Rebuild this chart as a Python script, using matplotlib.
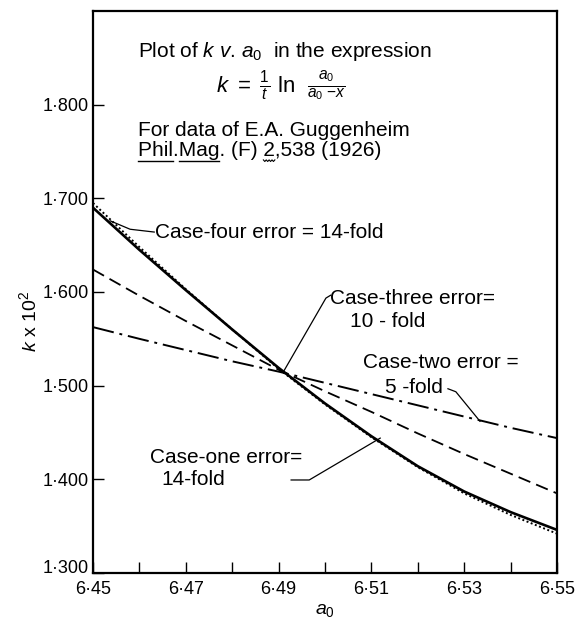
import numpy as np
import matplotlib
matplotlib.use("Agg")
import matplotlib.pyplot as plt
import matplotlib.transforms as mtransforms

plt.rcParams["font.family"] = ["Liberation Sans", "DejaVu Sans"]
plt.rcParams["mathtext.fontset"] = "custom"
plt.rcParams["mathtext.rm"] = "Liberation Sans"
plt.rcParams["mathtext.it"] = "Liberation Sans:italic"

# a0 values (x axis)
a0 = [6.45, 6.46, 6.47, 6.48, 6.49, 6.50, 6.51, 6.52, 6.53, 6.54, 6.55]

# k x 10^2 for the four cases
case_one = [1.690, 1.645, 1.602, 1.560, 1.519, 1.481, 1.446, 1.414, 1.387, 1.365, 1.346]
case_four = [1.695, 1.648, 1.603, 1.560, 1.518, 1.480, 1.445, 1.413, 1.385, 1.362, 1.342]
case_three = [1.624, 1.596, 1.569, 1.543, 1.517, 1.494, 1.472, 1.449, 1.427, 1.406, 1.385]
case_two = [1.5625, 1.550, 1.538, 1.526, 1.515, 1.503, 1.491, 1.479, 1.467, 1.455, 1.444]

xticks = [6.45, 6.47, 6.49, 6.51, 6.53, 6.55]
xticklabels = ["6·45", "6·47", "6·49", "6·51", "6·53", "6·55"]
yticks = [1.3, 1.4, 1.5, 1.6, 1.7, 1.8]
yticklabels = ["1·300", "1·400", "1·500", "1·600", "1·700", "1·800"]

fig = plt.figure(figsize=(5.79, 6.22), dpi=100)
ax = fig.add_axes([0.1606, 0.0788, 0.8014, 0.9035])

ax.plot(a0, case_one, color="black", lw=1.9, solid_capstyle="butt")
ax.plot(a0, case_four, color="black", lw=1.4, linestyle=(0, (1, 1.3)))
ax.plot(a0, case_three, color="black", lw=1.3, linestyle=(0, (7, 3.5)))
ax.plot(a0, case_two, color="black", lw=1.4, linestyle=(0, (11, 3, 1.5, 3)))

ax.set_xlim(6.45, 6.55)
ax.set_ylim(1.3, 1.9)
ax.set_xticks(np.arange(6.45, 6.555, 0.01), minor=True)
ax.set_xticks(xticks)
ax.set_xticklabels(xticklabels, fontsize=13)
ax.set_yticks(yticks)
ax.set_yticklabels(yticklabels, fontsize=13)
ax.tick_params(which="both", direction="in", length=8, width=1.0, pad=3)
ax.tick_params(axis="x", which="major", pad=6)
for s in ax.spines.values():
    s.set_linewidth(1.6)

# lift the lowest y label a little, as in the original, so it clears 6·45
lbl = ax.get_yticklabels()[0]
lbl.set_transform(lbl.get_transform() + mtransforms.ScaledTranslation(0, 5 / 72, fig.dpi_scale_trans))

ax.set_ylabel(r"$k$ x 10$^2$", fontsize=14)
ax.yaxis.set_label_coords(-0.115, 0.447)
ax.set_xlabel(r"$a_0$", fontsize=14, labelpad=3)

fs = 15
ax.text(6.4597, 1.857, r"Plot of $k$ $v$. $a_0$  in the expression", fontsize=fs, va="center")
ax.text(6.4905, 1.820, r"$k\ =\ \frac{1}{t}\ \mathrm{ln}\ \ \frac{a_0}{a_0\ \mathrm{-} x}$",
        fontsize=fs + 1, va="center", ha="center")
ax.text(6.4597, 1.7728, "For data of E.A. Guggenheim", fontsize=fs, va="center")
ref = ax.text(6.4597, 1.7514, "Phil.Mag. (F) 2,538 (1926)", fontsize=fs, va="center")

# underlines under Phil. and Mag., wavy under 2
fig.canvas.draw()
r = fig.canvas.get_renderer()
bb = ref.get_window_extent(r)
prop = ref.get_fontproperties()
def w(s):
    return r.get_text_width_height_descent(s, prop, ismath=False)[0]
inv = fig.transFigure.inverted()
y_ul = bb.y0 - 1
for a, b in [("", "Phil"), ("Phil.", "Mag")]:
    x0 = bb.x0 + w(a) if a else bb.x0
    x1 = bb.x0 + w(a + b)
    p0 = inv.transform((x0, y_ul)); p1 = inv.transform((x1, y_ul))
    fig.add_artist(plt.Line2D([p0[0], p1[0]], [p0[1], p1[1]], color="black", lw=1.0))
x0 = bb.x0 + w("Phil.Mag. (F) ")
x1 = bb.x0 + w("Phil.Mag. (F) 2")
xs = np.linspace(x0, x1, 9)
ys = y_ul + np.where(np.arange(9) % 2 == 0, 0.8, -0.8)
pts = inv.transform(np.column_stack([xs, ys]))
fig.add_artist(plt.Line2D(pts[:, 0], pts[:, 1], color="black", lw=0.8))

# case labels with leader lines
lw_l = 0.9
ax.text(6.4634, 1.664, "Case-four error = 14-fold", fontsize=fs, va="center")
ax.plot([6.4632, 6.4580, 6.4537], [1.664, 1.667, 1.676], color="black", lw=lw_l)

ax.text(6.5011, 1.5935, "Case-three error=", fontsize=fs, va="center")
ax.text(6.5054, 1.568, "10 - fold", fontsize=fs, va="center")
ax.plot([6.5012, 6.5002, 6.4910], [1.5965, 1.5935, 1.5145], color="black", lw=lw_l)

ax.text(6.5082, 1.5245, "Case-two error =", fontsize=fs, va="center")
ax.text(6.5130, 1.4978, "5 -fold", fontsize=fs, va="center")
ax.plot([6.5265, 6.5282, 6.5334], [1.4967, 1.4935, 1.462], color="black", lw=lw_l)

ax.text(6.4623, 1.4238, "Case-one error=", fontsize=fs, va="center")
ax.text(6.4647, 1.3993, "14-fold", fontsize=fs, va="center")
ax.plot([6.4927, 6.4966, 6.5119], [1.3993, 1.3993, 1.444], color="black", lw=lw_l)

fig.savefig("out.png", dpi=100)
